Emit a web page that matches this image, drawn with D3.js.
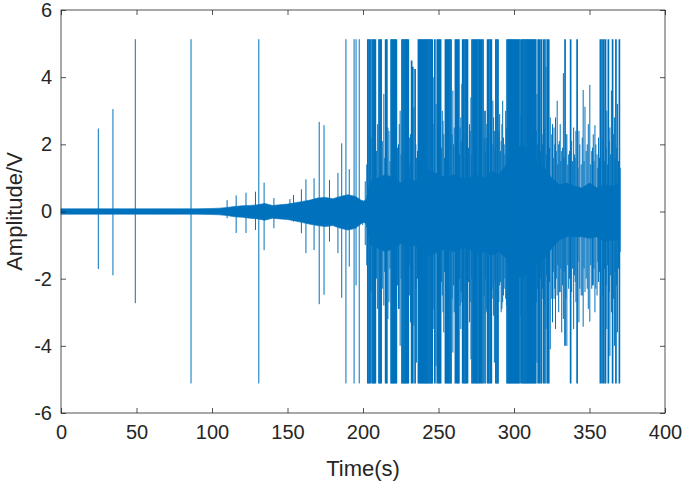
<!DOCTYPE html>
<html>
<head>
<meta charset="utf-8">
<script src="https://d3js.org/d3.v7.min.js"></script>
<style>
body { margin: 0; background: #fff; }
svg { display: block; font-family: "Liberation Sans", Arial, sans-serif; }
.axis text { fill: #262626; font-size: 20px; }
.axis line { stroke: #262626; stroke-width: 0.8px; }
.axis path { display: none; }
.spike { stroke: #0072BD; fill: none; }
.core { fill: #0072BD; stroke: #0072BD; stroke-width: 0.6px; }
</style>
</head>
<body>
<svg width="685" height="489"></svg>
<script>

// tick values
var xTicks = [0, 50, 100, 150, 200, 250, 300, 350, 400];
var yTicks = [-6, -4, -2, 0, 2, 4, 6];

// background noise band (envelope of the dense part of the trace)
var coreT  = [0, 10, 20, 30, 40, 50, 60, 70, 80, 90, 100, 105,
              110, 115, 120, 125, 130, 135, 140, 145, 150, 155, 160, 165, 170, 175, 180, 185, 190, 195, 200, 202,
              205, 210, 215, 220, 225, 230, 235, 240, 245, 250, 255, 260, 265, 270, 275, 280, 285, 290, 295,
              300, 305, 310, 315, 320, 325, 330, 335, 340, 345, 350, 355, 360, 365, 370];
var coreHi = [0.08, 0.08, 0.08, 0.08, 0.08, 0.08, 0.08, 0.08, 0.08, 0.08, 0.09, 0.10,
              0.12, 0.15, 0.17, 0.18, 0.20, 0.24, 0.18, 0.20, 0.22, 0.26, 0.30, 0.34, 0.40, 0.42, 0.38, 0.45, 0.50, 0.45, 0.30, 0.35,
              0.90, 1.00, 1.10, 1.00, 0.85, 1.00, 0.90, 1.30, 1.20, 1.10, 1.00, 1.10, 1.00, 1.00, 1.10, 1.00, 1.20, 1.10, 1.40,
              1.80, 2.00, 1.80, 1.50, 1.30, 1.00, 0.80, 0.85, 0.75, 0.70, 0.85, 0.70, 0.80, 0.75, 0.85];
var coreLo = [-0.08, -0.08, -0.08, -0.08, -0.08, -0.08, -0.08, -0.08, -0.08, -0.08, -0.09, -0.10,
              -0.12, -0.16, -0.17, -0.20, -0.22, -0.26, -0.20, -0.22, -0.24, -0.28, -0.33, -0.38, -0.42, -0.45, -0.42, -0.50, -0.55, -0.50, -0.32, -0.35,
              -1.00, -1.10, -1.20, -1.10, -0.95, -1.05, -1.00, -1.40, -1.30, -1.20, -1.10, -1.20, -1.10, -1.10, -1.30, -1.20, -1.30, -1.20, -1.40,
              -1.80, -2.00, -1.80, -1.60, -1.40, -1.10, -0.85, -0.75, -0.75, -0.75, -0.80, -0.75, -0.90, -0.85, -0.85];

// individual bursts: time (s), positive peak and negative peak (V)
var spikeT = [24.7, 34.4, 49.2, 86.1, 110.0, 116.0, 122.5, 128.8, 131.0, 134.5, 141.0, 151.6, 154.0, 159.2,
  162.2, 167.6, 171.0, 174.2, 177.8, 183.4, 185.9, 188.7, 190.9, 194.1, 195.4, 197.5, 199.8,
  203.2, 204.0, 204.7, 206.0, 206.7, 207.4, 208.2, 210.6, 211.3, 212.0, 213.8, 215.0, 215.8, 216.5,
  218.6, 219.3, 220.0, 220.7, 221.4, 222.1, 223.5, 224.6, 225.8, 226.5, 227.2, 227.9, 228.6, 229.3, 230.0,
  231.5, 232.2, 233.0, 234.5, 235.5, 236.7, 237.4, 238.1, 238.8, 239.5, 240.2, 240.9, 241.6, 242.3, 243.0,
  243.7, 244.4, 245.1, 245.8, 246.5, 247.6, 248.4, 249.2, 250.0, 250.7, 251.4, 252.5, 253.5, 254.6, 255.3,
  256.0, 256.8, 257.6, 258.3, 259.5, 260.4, 261.2, 262.0, 262.7, 263.5, 264.8, 265.5, 266.0, 266.8, 267.6,
  268.4, 269.2, 270.5, 271.5, 272.2, 273.0, 273.8, 274.6, 275.4, 276.2, 277.0, 277.8, 278.6, 279.5, 280.8,
  281.6, 282.5, 283.3, 284.2, 285.0, 286.0, 287.0, 288.0, 288.8, 289.4, 290.5, 291.5, 292.5, 293.5, 294.5,
  295.4, 296.1, 296.8, 297.5, 298.2, 298.9, 299.6, 300.3, 301.0, 301.7, 302.4, 303.1, 304.0, 305.2, 305.9,
  306.6, 307.3, 308.0, 308.7, 309.4, 310.1, 310.8, 311.5, 312.2, 313.0, 313.7, 314.4, 315.2, 316.0, 317.0,
  318.0, 319.5, 320.5, 321.2, 322.0, 323.0, 324.0, 325.5, 326.5, 327.5, 328.6, 329.6, 330.6, 331.6, 332.7,
  333.8, 335.0, 336.2, 337.5, 339.5, 340.5, 341.8, 343.0, 344.5, 345.8, 347.0, 348.5, 350.2, 351.5, 352.5,
  353.6, 355.0, 356.0, 357.2, 358.3, 359.5, 360.6, 361.5, 362.5, 363.5, 364.5, 365.3, 366.5, 367.5, 368.5,
  369.8, 370.3,
  // medium swings inside the noisy part
  201.5, 202.5, 205.3, 209.0, 209.7, 212.8, 214.4, 217.2, 217.9, 222.8, 224.0, 225.2, 230.7, 231.0, 233.7,
  235.0, 236.1, 247.0, 251.9, 253.0, 254.0, 259.0, 260.0, 263.9, 264.3, 265.0, 269.9, 271.0, 272.0, 280.2,
  281.2, 282.0, 285.5, 286.5, 287.5, 290.0, 291.0, 292.0, 293.0, 294.0, 295.0, 304.6, 314.8, 315.6, 316.5,
  317.5, 318.6, 319.0, 320.0, 321.6, 322.5, 323.5, 325.0, 326.0, 327.0, 328.0, 329.0, 330.0, 331.0, 332.2,
  333.2, 334.4, 335.6, 336.8, 338.2, 338.8, 340.0, 341.0, 342.4, 343.6, 345.2, 346.4, 347.8, 349.2, 350.8,
  352.0, 353.0, 354.2, 355.5, 356.6, 358.8, 360.0, 361.0, 362.0, 363.0, 364.0, 365.8, 367.0, 368.0, 369.2];
var spikeHi = [2.47, 3.05, 5.13, 5.13, 0.34, 0.48, 0.56, 0.59, 5.13, 0.86, 0.40, 0.37, 0.49, 0.66,
  0.96, 0.99, 2.67, 2.57, 0.94, 1.15, 2.03, 5.13, 1.26, 5.13, 5.13, 5.13, 0.34,
  5.13, 5.13, 5.13, 5.13, 5.13, 5.13, 5.13, 5.13, 5.13, 5.13, 3.50, 5.13, 5.13, 2.50,
  5.13, 5.13, 5.13, 5.13, 5.13, 5.13, 2.00, 3.00, 5.13, 5.13, 5.13, 5.13, 5.13, 5.13, 5.13,
  2.30, 4.50, 4.31, 4.24, 1.60, 5.13, 5.13, 5.13, 5.13, 5.13, 5.13, 5.13, 5.13, 5.13, 5.13,
  5.13, 5.13, 5.13, 5.13, 4.00, 5.13, 3.20, 5.13, 5.13, 5.13, 5.13, 3.00, 2.30, 5.13, 5.13,
  5.13, 5.13, 5.13, 5.13, 3.60, 2.50, 5.13, 5.13, 5.13, 5.13, 2.80, 3.80, 5.13, 5.13, 5.13,
  5.13, 5.13, 2.60, 3.40, 5.13, 5.13, 5.13, 5.13, 5.13, 5.13, 5.13, 5.13, 5.13, 5.13, 3.00,
  2.20, 5.13, 5.13, 5.13, 5.13, 3.30, 2.40, 5.13, 5.13, 5.13, 2.90, 2.10, 3.30, 2.00, 3.00,
  5.13, 5.13, 5.13, 5.13, 5.13, 5.13, 5.13, 5.13, 5.13, 5.13, 5.13, 5.13, 5.13, 5.13, 5.13,
  5.13, 5.13, 5.13, 5.13, 5.13, 5.13, 5.13, 5.13, 5.13, 5.13, 5.13, 5.13, 3.50, 5.13, 5.13,
  5.13, 5.13, 5.13, 4.30, 5.13, 5.13, 2.80, 2.60, 2.50, 2.80, 3.30, 2.00, 2.60, 1.80, 4.12,
  5.13, 2.30, 1.70, 5.13, 2.50, 1.60, 5.13, 2.40, 1.40, 3.62, 3.12, 2.00, 3.77, 1.80, 2.30,
  2.57, 1.70, 2.20, 5.13, 5.13, 5.13, 5.13, 3.00, 5.13, 2.50, 3.60, 5.13, 2.80, 5.13, 3.20,
  5.13, 1.30,
  0.90, 1.40, 2.20, 1.80, 2.60, 2.10, 1.60, 2.40, 1.50, 1.90, 2.60, 1.70, 2.20, 1.40, 3.10,
  2.00, 1.80, 2.60, 1.90, 2.70, 1.60, 2.30, 2.00, 1.70, 2.50, 2.10, 1.90, 2.40, 1.70, 2.20,
  1.80, 2.60, 2.00, 2.80, 1.90, 2.40, 1.80, 2.60, 2.20, 1.70, 2.50, 2.90, 2.40, 2.00, 2.60,
  1.80, 2.30, 2.00, 2.50, 1.70, 2.10, 1.90, 2.30, 1.60, 2.00, 1.80, 1.40, 2.10, 1.50, 1.90,
  1.60, 2.30, 1.40, 1.80, 2.10, 1.50, 1.70, 2.40, 1.30, 2.00, 2.20, 1.50, 1.80, 2.60, 1.40,
  1.90, 1.50, 2.00, 1.30, 1.60, 2.20, 1.50, 1.90, 1.40, 2.10, 1.70, 2.30, 1.60, 1.90, 1.50];
var spikeLo = [-1.71, -1.90, -2.73, -5.12, -0.20, -0.64, -0.64, -0.55, -5.12, -1.15, -0.50, -0.25, -0.30, -0.65,
  -1.24, -1.15, -2.76, -2.48, -0.90, -1.24, -2.57, -5.12, -1.64, -5.12, -2.20, -5.12, -0.40,
  -5.12, -5.12, -5.12, -5.12, -5.12, -5.12, -5.12, -5.12, -5.12, -5.12, -2.80, -5.12, -5.12, -3.20,
  -5.12, -5.12, -5.12, -5.12, -5.12, -5.12, -2.90, -4.00, -5.12, -5.12, -5.12, -5.12, -5.12, -5.12, -5.12,
  -3.30, -5.12, -5.12, -5.12, -4.50, -5.12, -5.12, -5.12, -5.12, -5.12, -5.12, -5.12, -5.12, -5.12, -5.12,
  -5.12, -5.12, -5.12, -5.12, -3.50, -5.12, -4.60, -5.12, -5.12, -5.12, -5.12, -2.50, -3.60, -5.12, -5.12,
  -5.12, -5.12, -5.12, -5.12, -4.20, -3.00, -5.12, -5.12, -5.12, -5.12, -3.50, -2.70, -5.12, -5.12, -5.12,
  -5.12, -5.12, -3.30, -4.40, -5.12, -5.12, -5.12, -5.12, -5.12, -5.12, -5.12, -5.12, -5.12, -5.12, -5.12,
  -3.00, -5.12, -5.12, -5.12, -5.12, -2.60, -4.50, -5.12, -5.12, -5.12, -2.20, -3.00, -2.70, -2.30, -2.60,
  -5.12, -5.12, -5.12, -5.12, -5.12, -5.12, -5.12, -5.12, -5.12, -5.12, -5.12, -5.12, -5.12, -5.12, -5.12,
  -5.12, -5.12, -5.12, -5.12, -5.12, -5.12, -5.12, -5.12, -5.12, -5.12, -5.12, -5.12, -4.50, -5.12, -5.12,
  -5.12, -5.12, -5.12, -3.50, -5.12, -5.12, -4.10, -3.30, -2.60, -3.50, -2.50, -3.00, -2.40, -3.60, -3.20,
  -4.00, -4.00, -2.30, -5.12, -3.50, -2.10, -5.12, -3.30, -2.50, -3.43, -2.40, -2.30, -3.28, -2.30, -2.20,
  -3.00, -2.50, -2.10, -5.12, -5.12, -5.12, -5.12, -3.50, -5.12, -4.30, -3.00, -5.12, -4.00, -5.12, -3.60,
  -5.12, -1.20,
  -1.00, -1.60, -2.40, -2.00, -2.90, -2.30, -1.80, -2.70, -1.70, -2.20, -2.90, -2.00, -2.50, -1.60, -3.40,
  -2.30, -2.00, -2.90, -2.10, -3.00, -1.80, -2.60, -2.20, -2.00, -2.80, -2.40, -2.10, -2.70, -2.00, -2.50,
  -2.00, -2.90, -2.30, -3.10, -2.10, -2.70, -2.10, -2.90, -2.50, -2.00, -2.80, -3.10, -2.70, -2.30, -2.90,
  -2.00, -2.60, -2.30, -2.80, -1.90, -2.40, -2.10, -2.60, -1.80, -2.30, -2.00, -1.60, -2.40, -1.70, -2.20,
  -1.80, -2.60, -1.60, -2.00, -2.40, -1.70, -1.90, -2.70, -1.50, -2.30, -2.50, -1.70, -2.00, -2.90, -1.60,
  -2.20, -1.70, -2.30, -1.50, -1.80, -2.50, -1.70, -2.20, -1.60, -2.40, -1.90, -2.60, -1.80, -2.20, -1.70];

var svg = d3.select("svg"),
    margin = {top: 10, right: 20, bottom: 76, left: 61},
    width = +svg.attr("width") - margin.left - margin.right,
    height = +svg.attr("height") - margin.top - margin.bottom,
    g = svg.append("g").attr("transform", "translate(" + margin.left + "," + margin.top + ")");

var x = d3.scaleLinear().domain([0, 400]).range([0, width]);
var y = d3.scaleLinear().domain([-6, 6]).range([height, 0]);

var core = coreT.map(function(t, i) { return {t: t, hi: coreHi[i], lo: coreLo[i]}; });
var spikes = spikeT.map(function(t, i) { return {t: t, hi: spikeHi[i], lo: spikeLo[i]}; });

var area = d3.area()
    .x(function(d) { return x(d.t); })
    .y0(function(d) { return y(d.lo); })
    .y1(function(d) { return y(d.hi); });

g.append("path")
    .datum(core)
    .attr("class", "core")
    .attr("d", area);

// isolated bursts are hairlines, the crowded clipped ones overlap into solid blue
g.selectAll(".spike")
    .data(spikes)
  .enter().append("line")
    .attr("class", "spike")
    .attr("stroke-width", function(d) { return (d.t >= 200 && (d.hi > 5 || d.lo < -5)) ? 1.7 : 1; })
    .attr("x1", function(d) { return x(d.t); })
    .attr("x2", function(d) { return x(d.t); })
    .attr("y1", function(d) { return y(d.hi); })
    .attr("y2", function(d) { return y(d.lo); });

// plain hyphen minus like the original
var fmt = function(d) { return String(d); };

// box with inward ticks on all four sides
g.append("g")
    .attr("class", "axis axis--x")
    .attr("transform", "translate(0," + height + ")")
    .call(d3.axisBottom(x).tickValues(xTicks).tickSize(-5).tickPadding(12).tickFormat(fmt));

g.append("g")
    .attr("class", "axis")
    .call(d3.axisTop(x).tickValues(xTicks).tickSize(-5).tickFormat(""));

g.append("g")
    .attr("class", "axis axis--y")
    .call(d3.axisLeft(y).tickValues(yTicks).tickSize(-5).tickPadding(9).tickFormat(fmt));

g.append("g")
    .attr("class", "axis")
    .attr("transform", "translate(" + width + ",0)")
    .call(d3.axisRight(y).tickValues(yTicks).tickSize(-5).tickFormat(""));

g.append("rect")
    .attr("width", width)
    .attr("height", height)
    .attr("fill", "none")
    .attr("stroke", "#262626")
    .attr("stroke-width", 0.8);

svg.append("text")
    .attr("x", margin.left + width / 2)
    .attr("y", 476)
    .attr("fill", "#262626")
    .style("font-size", "22px")
    .style("text-anchor", "middle")
    .text("Time(s)");

svg.append("text")
    .attr("transform", "rotate(-90)")
    .attr("x", -(margin.top + height / 2))
    .attr("y", 22)
    .attr("fill", "#262626")
    .style("font-size", "22px")
    .style("text-anchor", "middle")
    .text("Amplitude/V");

</script>
</body>
</html>
